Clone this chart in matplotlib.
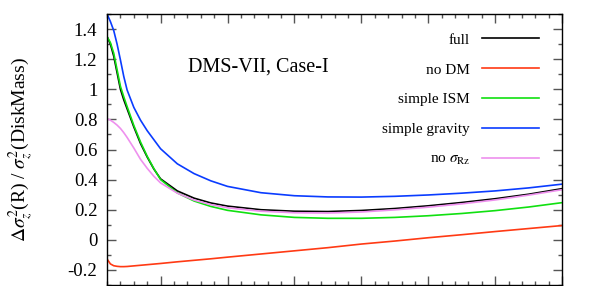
import numpy as np
import matplotlib
matplotlib.use("Agg")
import matplotlib.pyplot as plt
from matplotlib.ticker import MultipleLocator

plt.rcParams['font.family'] = ['Liberation Serif', 'DejaVu Serif']
plt.rcParams['mathtext.fontset'] = 'stix'

# radius (arbitrary units, major tick = 1)
R = [0.2, 0.25, 0.3, 0.35, 0.4, 0.45, 0.5, 0.6, 0.7, 0.8, 0.9, 1.0, 1.25, 1.5,
     1.75, 2.0, 2.5, 3.0, 3.5, 4.0, 4.5, 5.0, 5.5, 6.0, 6.5, 7.0]

full = [1.35, 1.30, 1.22, 1.11, 1.00, 0.93, 0.87, 0.75, 0.64, 0.55, 0.47, 0.405, 0.325, 0.277,
        0.245, 0.224, 0.200, 0.190, 0.188, 0.195, 0.208, 0.226, 0.248, 0.273, 0.303, 0.340]
no_dm = [-0.127, -0.160, -0.172, -0.176, -0.178, -0.178, -0.177, -0.173, -0.169, -0.165, -0.161, -0.157, -0.146, -0.136,
         -0.126, -0.115, -0.094, -0.073, -0.052, -0.028, -0.008, 0.014, 0.034, 0.055, 0.075, 0.095]
simple_ism = [1.35, 1.31, 1.24, 1.13, 1.02, 0.95, 0.885, 0.76, 0.65, 0.555, 0.473, 0.400, 0.312, 0.258,
              0.222, 0.196, 0.166, 0.149, 0.143, 0.143, 0.149, 0.160, 0.175, 0.194, 0.218, 0.247]
simple_gravity = [1.50, 1.45, 1.39, 1.30, 1.195, 1.085, 0.995, 0.88, 0.795, 0.725, 0.665, 0.605, 0.505, 0.440,
                  0.392, 0.355, 0.313, 0.293, 0.285, 0.284, 0.289, 0.298, 0.310, 0.325, 0.345, 0.370]
no_srz = [0.805, 0.795, 0.780, 0.762, 0.740, 0.712, 0.680, 0.610, 0.535, 0.475, 0.422, 0.378, 0.310, 0.264,
          0.234, 0.213, 0.190, 0.180, 0.178, 0.185, 0.199, 0.217, 0.239, 0.265, 0.297, 0.333]

labels = ['full', 'no DM', 'simple ISM', 'simple gravity', r'no $\sigma_{\rm Rz}$']
colors = ['#000000', '#ff3a14', '#10e010', '#0a3cff', '#ee90ee']

fig = plt.figure(figsize=(5.98, 2.86), dpi=100)
ax = fig.add_axes([0.179, 0.0035, 0.761, 0.9475])

for y, lab, c in zip([full, no_dm, simple_ism, simple_gravity, no_srz], labels, colors):
    ax.plot(R, y, color=c, lw=1.2, label=lab)

ax.set_xlim(0.2, 7.0)
ax.set_ylim(-0.3, 1.5)
ax.xaxis.set_major_locator(MultipleLocator(1))
ax.xaxis.set_minor_locator(MultipleLocator(0.2))
ax.yaxis.set_minor_locator(MultipleLocator(0.1))
ax.set_yticks([-0.2, 0, 0.2, 0.4, 0.6, 0.8, 1.0, 1.2, 1.4])
ax.set_yticklabels(['-0.2', '0', '0.2', '0.4', '0.6', '0.8', '1', '1.2', '1.4'])
ax.tick_params(which='both', direction='in', top=True, right=True,
               labelbottom=False, labelsize=13.5, pad=7, color='#555555')
ax.tick_params(which='major', length=6.5, width=1)
ax.tick_params(which='minor', length=3.2, width=1)
for s in ax.spines.values():
    s.set_linewidth(1)

ax.set_ylabel(r'$\Delta\sigma_z^2$(R) / $\sigma_z^2$(DiskMass)', fontsize=14)
ax.yaxis.set_label_coords(-0.156, 0.5)

ax.text(0.178, 0.8055, 'DMS-VII, Case-I', transform=ax.transAxes,
        fontsize=14.5, ha='left', va='center')

ax.legend(loc='upper right', bbox_to_anchor=(0.949, 0.93), frameon=False,
          markerfirst=False, fontsize=11, handlelength=3.75, handletextpad=0.76,
          labelspacing=1.06, borderpad=0, borderaxespad=0)

fig.savefig('out.png', dpi=100)
